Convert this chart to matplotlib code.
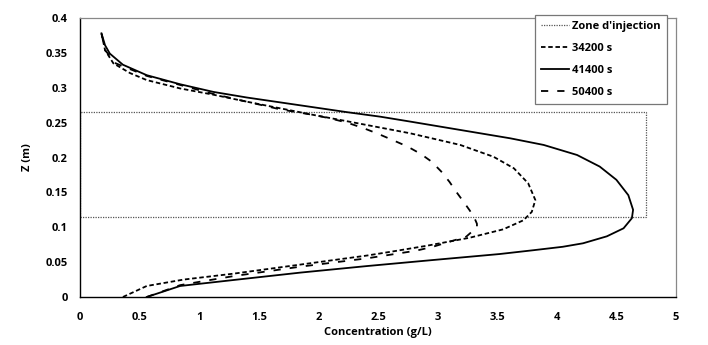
import matplotlib
matplotlib.use("Agg")
import matplotlib.pyplot as plt

plt.rcParams['font.family'] = ['Open Sans', 'DejaVu Sans']
plt.rcParams['font.weight'] = 'bold'

# Data
z_41400 = [0, 0.0158, 0.0244, 0.035, 0.0444, 0.053, 0.0616, 0.067, 0.072, 0.077, 0.087, 0.0985, 0.113, 0.125,
           0.146, 0.168, 0.187, 0.2036, 0.218, 0.2275, 0.2395, 0.2515, 0.2585, 0.265, 0.272, 0.279,
           0.286, 0.294, 0.305, 0.318, 0.333, 0.349, 0.361, 0.378]
c_41400 = [0.56, 0.84, 1.29, 1.85, 2.41, 2.96, 3.52, 3.80, 4.05, 4.22, 4.42, 4.56, 4.63, 4.64,
           4.60, 4.50, 4.36, 4.17, 3.89, 3.61, 3.19, 2.77, 2.52, 2.24, 1.96, 1.68,
           1.40, 1.12, 0.84, 0.56, 0.36, 0.25, 0.21, 0.18]

z_34200 = [0, 0.0158, 0.025, 0.0335, 0.0465, 0.0595, 0.0655, 0.0735, 0.085, 0.097,
           0.110, 0.122, 0.139, 0.163, 0.1845, 0.201, 0.218, 0.2347, 0.252, 0.261, 0.2705,
           0.280, 0.290, 0.299, 0.311, 0.321, 0.335, 0.354, 0.378]
c_34200 = [0.36, 0.56, 0.87, 1.29, 1.85, 2.41, 2.63, 2.91, 3.27, 3.55,
           3.72, 3.79, 3.82, 3.76, 3.64, 3.47, 3.19, 2.77, 2.24, 1.96, 1.68,
           1.40, 1.12, 0.84, 0.56, 0.42, 0.28, 0.21, 0.18]

z_50400 = [0, 0.017, 0.022, 0.030, 0.0435, 0.0555, 0.0664, 0.072, 0.0865, 0.100, 0.105, 0.113,
           0.124, 0.136, 0.150, 0.165, 0.180, 0.194, 0.205, 0.2155, 0.2245, 0.234, 0.242, 0.250,
           0.256, 0.261, 0.269, 0.280, 0.291, 0.304, 0.317, 0.335, 0.354, 0.378]
c_50400 = [0.56, 0.84, 1.01, 1.29, 1.85, 2.41, 2.82, 2.96, 3.24, 3.33, 3.33, 3.31,
           3.27, 3.22, 3.16, 3.10, 3.03, 2.95, 2.86, 2.75, 2.63, 2.50, 2.38, 2.24,
           2.10, 1.96, 1.68, 1.40, 1.12, 0.84, 0.56, 0.30, 0.21, 0.18]

zone_c = [0, 4.75, 4.75, 0, 0]
zone_z = [0.115, 0.115, 0.265, 0.265, 0.115]

x_ticks = [0, 0.5, 1, 1.5, 2, 2.5, 3, 3.5, 4, 4.5, 5]
x_labels = ["0", "0.5", "1", "1.5", "2", "2.5", "3", "3.5", "4", "4.5", "5"]
y_ticks = [0, 0.05, 0.1, 0.15, 0.2, 0.25, 0.3, 0.35, 0.4]
y_labels = ["0", "0.05", "0.1", "0.15", "0.2", "0.25", "0.3", "0.35", "0.4"]

fig = plt.figure(figsize=(7.08, 3.45), dpi=100)
ax = fig.add_axes([80/708, 1-297/345, 596/708, 279/345])

ax.plot(zone_c, zone_z, color='#555555', lw=0.9, linestyle=(0, (1, 1)), label="Zone d'injection")
ax.plot(c_34200, z_34200, color='black', lw=1.3, linestyle=(0, (2.5, 1.5)), label='34200 s')
ax.plot(c_41400, z_41400, color='black', lw=1.3, linestyle='-', label='41400 s')
ax.plot(c_50400, z_50400, color='black', lw=1.3, linestyle=(0, (4, 5)), label='50400 s')

ax.set_xlim(0, 5)
ax.set_ylim(0, 0.4)
ax.set_xticks(x_ticks)
ax.set_xticklabels(x_labels)
ax.set_yticks(y_ticks)
ax.set_yticklabels(y_labels)
ax.tick_params(axis='x', length=0, labelsize=8, pad=11)
ax.tick_params(axis='y', length=0, labelsize=8, pad=9)
for lab in ax.get_xticklabels() + ax.get_yticklabels():
    lab.set_fontweight('bold')

for s in ['top', 'right']:
    ax.spines[s].set_color('#888888')
    ax.spines[s].set_linewidth(0.9)
for s in ['left', 'bottom']:
    ax.spines[s].set_color('black')
    ax.spines[s].set_linewidth(1.0)

ax.set_xlabel('Concentration (g/L)', fontsize=8, fontweight='bold', labelpad=3)
ax.set_ylabel('Z (m)', fontsize=8, fontweight='bold', labelpad=9)

leg = ax.legend(loc='upper right', bbox_to_anchor=(0.985, 1.011), fontsize=8,
                handlelength=2.5, handletextpad=0.3, labelspacing=1.0,
                borderpad=0.55, borderaxespad=0, fancybox=False, framealpha=1)
leg.get_frame().set_edgecolor('#777777')
leg.get_frame().set_linewidth(0.9)
for t in leg.get_texts():
    t.set_fontweight('bold')

fig.savefig('out.png', dpi=100)
